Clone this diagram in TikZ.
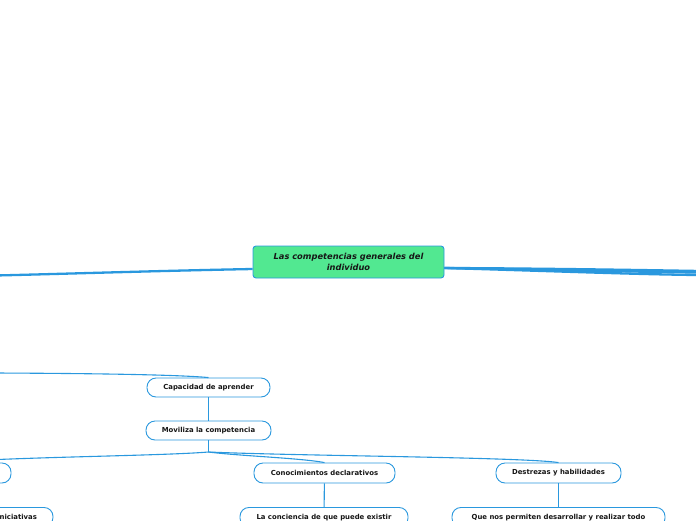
\documentclass[tikz,border=0pt]{standalone}
\usepackage{fontspec}
\setmainfont{DejaVu Sans}
\usetikzlibrary{calc}
\definecolor{link}{HTML}{2A98DE}
\definecolor{mint}{HTML}{52E891}
\definecolor{ink}{HTML}{161616}
\tikzset{
  central/.style={draw=link,fill=mint,rounded corners=3pt,line width=.9pt,minimum width=191pt,minimum height=32pt,align=center,inner sep=0pt,text=ink,font=\bfseries\itshape\fontsize{8.3}{11}\selectfont},
  topic/.style={draw=link,fill=white,rounded corners=9pt,line width=.9pt,minimum height=19pt,inner sep=0pt,text=ink,font=\bfseries\fontsize{6.9}{8}\selectfont},
  leaf/.style={topic,anchor=north,inner ysep=6.5pt},
  branch/.style={link,line width=2.3pt},
  twig/.style={link,line width=1.1pt},
}

\begin{document}
\begin{tikzpicture}[x=1pt,y=-1pt]
  \useasboundingbox (0,0) rectangle (696,520);
  \clip (0,0) rectangle (696,520);

  % Central topic and its main branches.
  \node[central] (root) at (348.5,262) {Las competencias generales del\\individuo};
  \coordinate (westend) at (-5,275.5);
  \coordinate (eastA) at (700,271);
  \coordinate (eastB) at (700,272.5);
  \coordinate (eastC) at (700,275);
  \draw[branch] ([yshift=-7pt]root.west) .. controls (150,271) and (60,274) .. (westend);
  \draw[branch] ([yshift=-6pt]root.east) .. controls (550,268.5) and (640,270) .. (eastA);
  \draw[branch] ([yshift=-6pt]root.east) .. controls (550,269.5) and (640,272) .. (eastB);
  \draw[branch] ([yshift=-6pt]root.east) .. controls (550,271) and (640,274.5) .. (eastC);

  % Subtopic chain.
  \node[topic,minimum width=123pt] (capacidad) at (208.5,387.5) {Capacidad de aprender};
  \node[topic,minimum width=125pt] (moviliza) at (208.5,430.5) {Moviliza la competencia};
  \coordinate (westcap) at (-5,373);
  \draw[twig] (westcap) .. controls (110,373.5) and (180,375) .. (capacidad.north);
  \draw[twig] (capacidad) -- (moviliza);

  % Three kinds of knowledge.
  \node[topic,minimum width=130pt,minimum height=20pt] (hidden) at (-54,473) {};
  \node[topic,minimum width=141pt,minimum height=20pt] (declarativos) at (324.5,473) {Conocimientos declarativos};
  \node[topic,minimum width=125pt,minimum height=20pt] (destrezas) at (558.5,473) {Destrezas y habilidades};
  \coordinate (fork) at (208.5,452);
  \draw[twig] (moviliza) -- (fork);
  \draw[twig] (fork) .. controls (160,456) and (10,457) .. (hidden.north);
  \draw[twig] (fork) .. controls (240,456) and (300,458) .. (declarativos.north);
  \draw[twig] (fork) .. controls (300,456) and (520,457) .. (destrezas.north);

  % Leaves, cut by the bottom edge.
  \node[leaf,text width=90pt,align=right,inner xsep=16pt] (iniciativas) at (-8,507) {iniciativas};
  \node[leaf,minimum width=168pt] (conciencia) at (324,507) {La conciencia de que puede existir};
  \node[leaf,minimum width=213pt] (permiten) at (558.5,507) {Que nos permiten desarrollar y realizar todo};
  \draw[twig] (declarativos) -- (conciencia);
  \draw[twig] (destrezas) -- (permiten);
\end{tikzpicture}
\end{document}
